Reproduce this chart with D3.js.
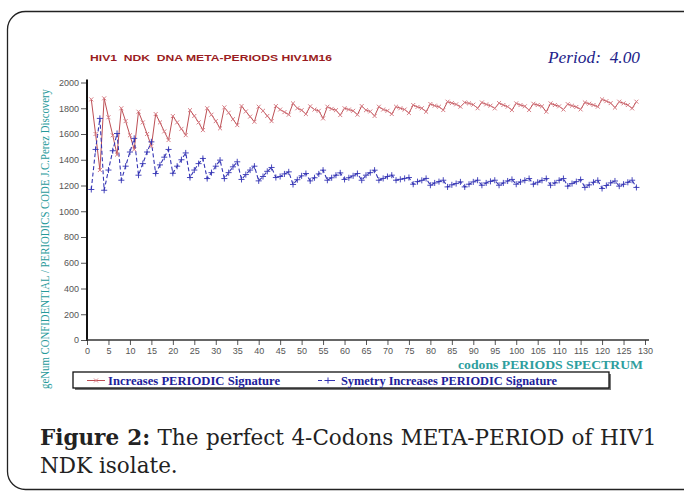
<!DOCTYPE html>
<html>
<head>
<meta charset="utf-8">
<script src="https://cdn.jsdelivr.net/npm/d3@7"></script>
<style>
  body { margin: 0; background: #fff; }
  svg { display: block; }
</style>
</head>
<body>
<div class="chart"></div>
<script>
//Chart data
const yTicks = [0, 200, 400, 600, 800, 1000, 1200, 1400, 1600, 1800, 2000];
const xTicks = [0, 5, 10, 15, 20, 25, 30, 35, 40, 45, 50, 55, 60, 65, 70, 75, 80, 85, 90, 95, 100, 105, 110, 115, 120, 125, 130];

// Increases PERIODIC Signature, codons 1..128
const increases = [
  1869, 1600, 1320,
  1877, 1730, 1590, 1440,
  1800, 1700, 1590, 1480,
  1773, 1690, 1600, 1506,
  1755, 1690, 1620, 1553,
  1739, 1690, 1640, 1591,
  1785, 1740, 1690, 1630,
  1800, 1750, 1700, 1644,
  1807, 1765, 1715, 1669,
  1817, 1775, 1735, 1695,
  1812, 1780, 1740, 1700,
  1817, 1790, 1770, 1750,
  1838, 1800, 1785, 1755,
  1815, 1790, 1780, 1721,
  1812, 1795, 1785, 1747,
  1800, 1790, 1780, 1750,
  1817, 1785, 1775, 1740,
  1812, 1790, 1780, 1755,
  1812, 1800, 1790, 1763,
  1825, 1810, 1800, 1773,
  1833, 1820, 1812, 1786,
  1851, 1840, 1830, 1812,
  1845, 1838, 1828, 1800,
  1845, 1830, 1820, 1799,
  1840, 1825, 1812, 1786,
  1838, 1825, 1815, 1786,
  1835, 1825, 1815, 1773,
  1838, 1825, 1815, 1790,
  1832, 1820, 1810, 1791,
  1845, 1835, 1825, 1812,
  1869, 1855, 1840, 1805,
  1851, 1838, 1825, 1799,
  1851
];

// Symetry Increases PERIODIC Signature, codons 1..128
const symetry = [
  1169, 1480, 1721,
  1163, 1320, 1470, 1604,
  1241, 1350, 1460, 1566,
  1280, 1370, 1460, 1539,
  1293, 1360, 1420, 1480,
  1295, 1350, 1400, 1453,
  1262, 1320, 1370, 1410,
  1254, 1300, 1350, 1397,
  1254, 1300, 1345, 1384,
  1247, 1285, 1320, 1350,
  1236, 1270, 1310, 1340,
  1262, 1270, 1290, 1306,
  1208, 1245, 1275, 1293,
  1236, 1260, 1290, 1319,
  1241, 1260, 1280, 1298,
  1247, 1260, 1275, 1293,
  1241, 1280, 1300, 1319,
  1241, 1255, 1270, 1280,
  1241, 1248, 1255, 1262,
  1210, 1230, 1240, 1255,
  1202, 1220, 1230, 1241,
  1189, 1205, 1215, 1228,
  1189, 1210, 1228, 1241,
  1202, 1220, 1232, 1241,
  1202, 1220, 1235, 1247,
  1210, 1228, 1240, 1254,
  1210, 1225, 1240, 1254,
  1202, 1220, 1240, 1254,
  1195, 1215, 1230, 1246,
  1185, 1205, 1225, 1240,
  1177, 1200, 1220, 1235,
  1195, 1210, 1225, 1241,
  1185
];
const codons = increases.map((d, i) => i + 1);

const W = 684, H = 493;
const plot = {left: 87, right: 645, top: 82.5, bottom: 340};
const serif = 'Liberation Serif, Times New Roman, serif';

const svg = d3.select('.chart')
  .append('svg')
  .attr('width', W)
  .attr('height', H);

//Rounded frame
svg.append('rect')
  .attr('x', 7.5).attr('y', 11.5)
  .attr('width', 700).attr('height', 478)
  .attr('rx', 18)
  .attr('fill', 'none')
  .attr('stroke', '#222')
  .attr('stroke-width', 1.3);

//Scales
const x = d3.scaleLinear().domain([0, 130]).range([plot.left, plot.right]);
const y = d3.scaleLinear().domain([0, 2000]).range([plot.bottom, plot.top]);

//Axes
const yAxis = d3.axisLeft(y).tickValues(yTicks).tickSize(6).tickPadding(2).tickFormat(d3.format('d'));
const xAxis = d3.axisBottom(x).tickValues(xTicks).tickSize(5).tickPadding(3).tickFormat(d3.format('d'));

const gy = svg.append('g')
  .attr('transform', `translate(${plot.left},0)`)
  .call(yAxis);
const gx = svg.append('g')
  .attr('transform', `translate(0,${plot.bottom})`)
  .call(xAxis);

[gx, gy].forEach(g => {
  g.select('.domain').remove();
  g.selectAll('.tick line').attr('stroke', '#555').attr('stroke-width', 1);
  g.selectAll('.tick text')
    .attr('fill', '#555')
    .attr('font-family', 'Liberation Sans, Arial, sans-serif')
    .attr('font-size', 9);
});

//Axis lines
svg.append('line')
  .attr('x1', plot.left).attr('x2', plot.left)
  .attr('y1', plot.bottom + 1).attr('y2', plot.top - 3)
  .attr('stroke', '#111').attr('stroke-width', 2);
svg.append('line')
  .attr('x1', plot.left - 1).attr('x2', plot.right + 4)
  .attr('y1', plot.bottom).attr('y2', plot.bottom)
  .attr('stroke', '#333').attr('stroke-width', 1.5);

//Series
const redCol = '#bd4f55', blueCol = '#3434b4';
const line = d3.line().x((d, i) => x(codons[i])).y(d => y(d));

svg.append('path')
  .datum(increases)
  .attr('d', line)
  .attr('fill', 'none')
  .attr('stroke', redCol)
  .attr('stroke-width', 1);

svg.append('path')
  .datum(symetry)
  .attr('d', line)
  .attr('fill', 'none')
  .attr('stroke', blueCol)
  .attr('stroke-width', 1.1)
  .attr('stroke-dasharray', '4,2.5');

const timesSym = d3.symbol().type(d3.symbolTimes).size(12);
const plusSym = d3.symbol().type(d3.symbolPlus).size(14);

svg.append('g').selectAll('path')
  .data(increases)
  .join('path')
  .attr('transform', (d, i) => `translate(${x(codons[i])},${y(d)})`)
  .attr('d', timesSym)
  .attr('fill', 'none')
  .attr('stroke', '#d77e86')
  .attr('stroke-width', 1);

svg.append('g').selectAll('path')
  .data(symetry)
  .join('path')
  .attr('transform', (d, i) => `translate(${x(codons[i])},${y(d)})`)
  .attr('d', plusSym)
  .attr('fill', 'none')
  .attr('stroke', blueCol)
  .attr('stroke-width', 0.9);

//Titles
svg.append('text')
  .attr('x', 90).attr('y', 61)
  .attr('fill', '#9a1c22')
  .attr('font-family', 'Liberation Sans, Arial, sans-serif')
  .attr('font-weight', 'bold')
  .attr('font-size', 9.5)
  .attr('textLength', 242)
  .attr('lengthAdjust', 'spacingAndGlyphs')
  .style('white-space', 'pre')
  .text('HIV1  NDK  DNA META-PERIODS HIV1M16');

svg.append('text')
  .attr('x', 548).attr('y', 63)
  .attr('fill', '#22228a')
  .attr('font-family', serif)
  .attr('font-style', 'italic')
  .attr('font-size', 16)
  .attr('textLength', 92)
  .attr('lengthAdjust', 'spacingAndGlyphs')
  .style('white-space', 'pre')
  .text('Period:  4.00');

svg.append('text')
  .attr('transform', 'translate(49,239) rotate(-90)')
  .attr('text-anchor', 'middle')
  .attr('fill', '#279a9a')
  .attr('font-family', serif)
  .attr('font-size', 12)
  .attr('textLength', 300)
  .attr('lengthAdjust', 'spacingAndGlyphs')
  .text('geNum CONFIDENTIAL / PERIODICS CODE J.C.Perez Discovery');

svg.append('text')
  .attr('x', 643).attr('y', 369)
  .attr('text-anchor', 'end')
  .attr('fill', '#2e9e9e')
  .attr('font-family', serif)
  .attr('font-weight', 'bold')
  .attr('font-size', 13)
  .attr('textLength', 185)
  .attr('lengthAdjust', 'spacingAndGlyphs')
  .text('codons PERIODS SPECTRUM');

//Legend
const lg = svg.append('g');
lg.append('rect')
  .attr('x', 75).attr('y', 374)
  .attr('width', 536).attr('height', 16)
  .attr('fill', '#777');
lg.append('rect')
  .attr('x', 73).attr('y', 372)
  .attr('width', 536).attr('height', 16)
  .attr('fill', '#fff')
  .attr('stroke', '#111')
  .attr('stroke-width', 1.3);

lg.append('line')
  .attr('x1', 87).attr('x2', 105).attr('y1', 380.5).attr('y2', 380.5)
  .attr('stroke', redCol);
lg.append('path')
  .attr('transform', 'translate(96,380.5)')
  .attr('d', timesSym)
  .attr('fill', 'none').attr('stroke', '#d77e86');
lg.append('text')
  .attr('x', 108).attr('y', 384.5)
  .attr('fill', '#20209a')
  .attr('font-family', serif)
  .attr('font-weight', 'bold')
  .attr('font-size', 12)
  .attr('textLength', 172)
  .attr('lengthAdjust', 'spacingAndGlyphs')
  .text('Increases PERIODIC Signature');

lg.append('line')
  .attr('x1', 318).attr('x2', 337).attr('y1', 380.5).attr('y2', 380.5)
  .attr('stroke', blueCol).attr('stroke-dasharray', '4,2.5');
lg.append('path')
  .attr('transform', 'translate(328,380.5)')
  .attr('d', plusSym)
  .attr('fill', 'none').attr('stroke', blueCol);
lg.append('text')
  .attr('x', 341).attr('y', 384.5)
  .attr('fill', '#20209a')
  .attr('font-family', serif)
  .attr('font-weight', 'bold')
  .attr('font-size', 12)
  .attr('textLength', 216)
  .attr('lengthAdjust', 'spacingAndGlyphs')
  .text('Symetry Increases PERIODIC Signature');

//Caption, justified on the first line
const capFont = 'DejaVu Serif, serif';
const cap = svg.append('text')
  .attr('x', 40).attr('y', 445)
  .attr('fill', '#222')
  .attr('font-family', capFont)
  .attr('font-size', 21.5);
cap.append('tspan').attr('font-weight', 'bold').text('Figure 2:');
cap.append('tspan').text(' The perfect 4-Codons META-PERIOD of HIV1');
const capW = cap.node().getComputedTextLength();
cap.attr('word-spacing', (617 - capW) / 8);

svg.append('text')
  .attr('x', 40).attr('y', 473)
  .attr('fill', '#222')
  .attr('font-family', capFont)
  .attr('font-size', 21.5)
  .text('NDK isolate.');
</script>
</body>
</html>
